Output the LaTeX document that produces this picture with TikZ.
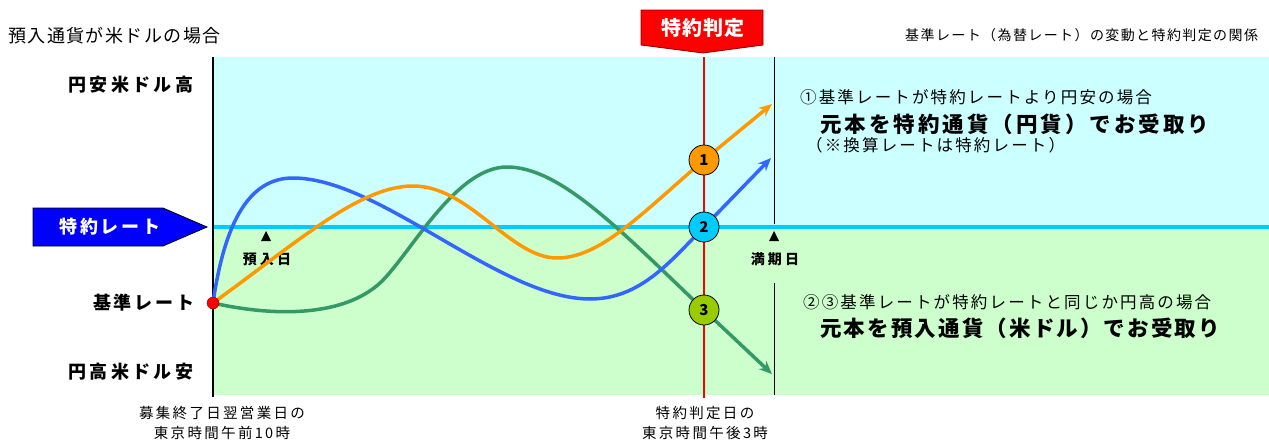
\documentclass[tikz,border=0pt]{standalone}
\usepackage{fontspec}
\setmainfont{Noto Sans CJK JP}
\usepackage{tikz}
\usetikzlibrary{arrows.meta}

\definecolor{skyfill}{HTML}{CCFFFF}
\definecolor{mintfill}{HTML}{CCFFCC}
\definecolor{rateline}{HTML}{00CCFF}
\definecolor{curveorange}{HTML}{FF9900}
\definecolor{curveblue}{HTML}{3366FF}
\definecolor{curvegreen}{HTML}{339966}
\definecolor{limegreen}{HTML}{99CC00}

\newcommand{\jpfont}[2]{\fontsize{#1}{#1}\selectfont\addfontfeature{LetterSpace=#2}}

\tikzset{
  txt/.style={inner sep=0pt},
  num/.style={circle, draw=black, line width=0.8pt, minimum size=30pt, inner sep=0pt, font=\bfseries\fontsize{15}{15}\selectfont},
  curve/.style={line width=3.5pt, -{Stealth[length=13pt,width=11pt]}},
}

\begin{document}
\begin{tikzpicture}[x=1pt,y=-1pt]
\useasboundingbox (0,0) rectangle (1269,442);

    % background bands
    \fill[skyfill] (213,57) rectangle (1269,227);
    \fill[mintfill] (213,227) rectangle (1269,395);
    \draw[rateline, line width=4pt] (213,227) -- (1269,227);

    % axis lines
    \draw[line width=1.2pt] (213,57) -- (213,397);
    \draw[line width=1pt] (774,57) -- (774,224);
    \draw[line width=1pt] (774,283) -- (774,395);
    \draw[red, line width=2.5pt] (704,57) -- (704,398);

    \node[txt, anchor=west, font=\jpfont{18}{8}] (title) at (8,36) {預入通貨が米ドルの場合};
    \node[txt, anchor=west, font=\jpfont{14}{10}] (caption) at (905,35) {基準レート（為替レート）の変動と特約判定の関係};

    \node[txt, anchor=west, font=\bfseries\jpfont{18}{19}] (yasu) at (68,85) {円安米ドル高};
    \node[txt, anchor=west, font=\bfseries\jpfont{18}{15}] (kijun) at (93,303) {基準レート};
    \node[txt, anchor=west, font=\bfseries\jpfont{18}{19}] (taka) at (68,372) {円高米ドル安};

    % rate tags
    \filldraw[fill=blue, draw=black, line width=0.8pt] (33,208) -- (163,208) -- (207,227) -- (163,246) -- (33,246) -- cycle;
    \node[txt, white, font=\bfseries\jpfont{18}{16}] (tokuyaku) at (110,227) {特約レート};
    \filldraw[fill=red, draw=red!55!black, line width=0.8pt] (641,10) -- (763,10) -- (763,45) -- (703,53) -- (641,45) -- cycle;
    \node[txt, white, font=\bfseries\jpfont{20}{6}] (hantei) at (703,28) {特約判定};

    % day markers
    \fill (261,241) -- (271,241) -- (266,231) -- cycle;
    \fill (769,241) -- (779,241) -- (774,231) -- cycle;
    \node[txt, font=\bfseries\jpfont{14}{22}] (azuke) at (267,259) {預入日};
    \node[txt, font=\bfseries\jpfont{14}{22}] (manki) at (775,259) {満期日};

    \node[txt, font=\jpfont{14.5}{16}] (boshu1) at (222,413) {募集終了日翌営業日の};
    \node[txt, font=\jpfont{14.5}{16}] (boshu2) at (222,433) {東京時間午前10時};
    \node[txt, font=\jpfont{14.5}{16}] (judge1) at (705,413) {特約判定日の};
    \node[txt, font=\jpfont{14.5}{16}] (judge2) at (705,433) {東京時間午後3時};

    % the three rate paths
    \coordinate (base) at (213,303);
    \draw[curve, curvegreen] (base) .. controls (280,318) and (345,315) .. (380,283)
        .. controls (410,255) and (455,167) .. (507,167)
        .. controls (560,167) and (620,230) .. (704,310) -- (772,374);
    \draw[curve, curveblue] (base) .. controls (225,220) and (250,178) .. (293,178)
        .. controls (380,178) and (500,299) .. (590,299)
        .. controls (640,299) and (670,262) .. (704,227) -- (771,158);
    \draw[curve, curveorange] (base) .. controls (300,240) and (360,186) .. (413,186)
        .. controls (470,186) and (510,258) .. (557,258)
        .. controls (600,258) and (640,215) .. (704,160) -- (772,104);
    \node[circle, fill=red, draw=red!50!black, minimum size=12pt, inner sep=0pt] (start) at (base) {};

    \node[num, fill=curveorange] (c1) at (704,160) {1};
    \node[num, fill=rateline] (c2) at (704,227) {2};
    \node[num, fill=limegreen] (c3) at (704,310) {3};

    % outcome texts
    \node[txt, anchor=west, font=\jpfont{16.5}{13}] (case1) at (800,97) {①基準レートが特約レートより円安の場合};
    \node[txt, anchor=west, font=\bfseries\jpfont{21.5}{14}] (yen) at (820,124) {元本を特約通貨（円貨）でお受取り};
    \node[txt, anchor=west, font=\jpfont{16.5}{13}] (note) at (806,145) {（※換算レートは特約レート）};
    \node[txt, anchor=west, font=\jpfont{16.5}{13}] (case23) at (803,302) {②③基準レートが特約レートと同じか円高の場合};
    \node[txt, anchor=west, font=\bfseries\jpfont{21.5}{10}] (usd) at (820,328) {元本を預入通貨（米ドル）でお受取り};

\end{tikzpicture}
\end{document}
